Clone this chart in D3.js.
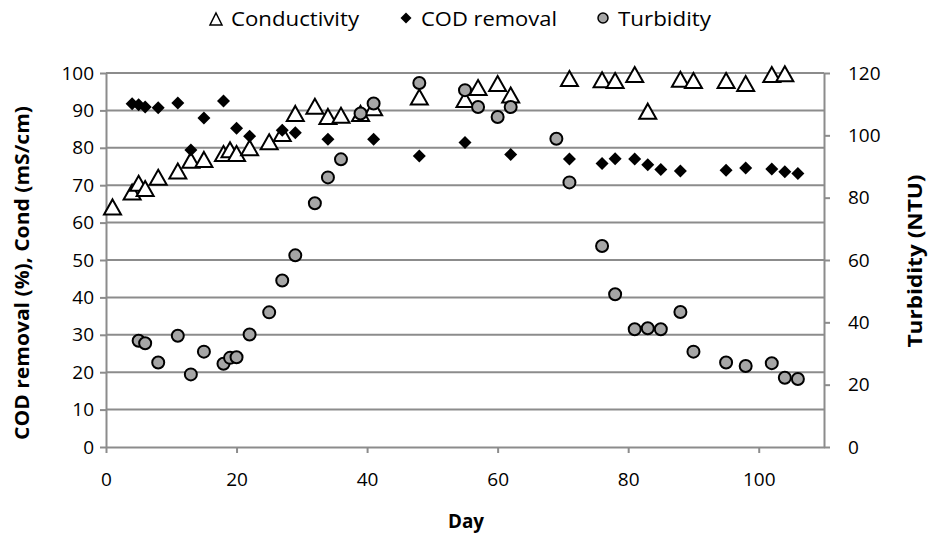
<!DOCTYPE html>
<html>
<head>
<meta charset="utf-8">
<script src="https://cdn.jsdelivr.net/npm/d3@7"></script>
<style>
  body { margin: 0; background: #fff; }
  svg text { font-family: "Open Sans", sans-serif; fill: #000; }
</style>
</head>
<body>
<div id="chart"></div>
<script>
// values
var condDay = [1,4,5,6,8,11,13,15,18,19,20,22,25,27,29,32,34,36,39,41,48,55,57,60,62,71,76,78,81,83,88,90,95,98,102,104];
var condVal = [64.2,68.2,70.5,69.1,72.1,73.8,76.7,76.9,78.5,79.5,78.5,80,81.6,83.8,89.2,91.1,88.4,88.7,89.2,90.7,93.6,92.9,96.1,97.2,94.1,98.5,98.2,98.0,99.6,89.8,98.3,98.0,98.0,97.2,99.6,99.8];

var codDay = [4,5,6,8,11,13,15,18,20,22,27,29,34,41,48,55,62,71,76,78,81,83,85,88,95,98,102,104,106];
var codVal = [91.8,91.5,90.9,90.7,92.0,79.4,88.0,92.5,85.2,83.1,84.7,84.0,82.3,82.3,77.8,81.4,78.2,77.0,75.8,77.1,77.0,75.5,74.2,73.8,74.0,74.6,74.3,73.6,73.1];

var turbDay = [5,6,8,11,13,15,18,19,20,22,25,27,29,32,34,36,39,41,48,55,57,60,62,69,71,76,78,81,83,85,88,90,95,98,102,104,106];
var turbVal = [34.1,33.3,27.1,35.7,23.3,30.6,26.7,28.6,28.8,36.1,43.2,53.4,61.5,78.2,86.5,92.3,107.0,110.2,116.8,114.5,109.1,105.9,109.1,98.9,84.9,64.5,49.0,37.8,38.1,37.8,43.3,30.6,27.1,26.0,26.9,22.2,21.8];

var xTicks = [0,20,40,60,80,100];
var leftTicks = [0,10,20,30,40,50,60,70,80,90,100];
var rightTicks = [0,20,40,60,80,100,120];
var legendNames = ["Conductivity", "COD removal", "Turbidity"];

var dim = {
    width: 932, height: 537,
    margin: { top: 73, right: 108, bottom: 90, left: 106 }
};
dim.plot = {
    width: dim.width - dim.margin.left - dim.margin.right,
    height: dim.height - dim.margin.top - dim.margin.bottom
};

var gridColor = "#8c8c8c";

var x = d3.scaleLinear().domain([0, 110]).range([0, dim.plot.width]);
var y = d3.scaleLinear().domain([0, 100]).range([dim.plot.height, 0]);
var y2 = d3.scaleLinear().domain([0, 120]).range([dim.plot.height, 0]);

var svg = d3.select("#chart").append("svg")
        .attr("width", dim.width)
        .attr("height", dim.height);

var g = svg.append("g")
        .attr("transform", "translate(" + dim.margin.left + "," + dim.margin.top + ")");

// horizontal gridlines
g.append("g").attr("class", "grid")
    .selectAll("line").data(leftTicks.filter(function(d) { return d > 0; }))
    .enter().append("line")
        .attr("x1", 0).attr("x2", dim.plot.width)
        .attr("y1", function(d) { return y(d); })
        .attr("y2", function(d) { return y(d); })
        .attr("stroke", gridColor)
        .attr("stroke-width", 2);

function styleAxis(sel) {
    sel.select(".domain").attr("stroke", gridColor).attr("stroke-width", 2);
    sel.selectAll(".tick line").attr("stroke", gridColor).attr("stroke-width", 2);
    sel.selectAll(".tick text").style("font-size", "19px").attr("fill", "#000");
}

var xAxis = d3.axisBottom(x).tickValues(xTicks).tickSize(6).tickSizeOuter(0).tickPadding(20);
g.append("g")
    .attr("class", "x axis")
    .attr("transform", "translate(0," + dim.plot.height + ")")
    .call(xAxis)
    .call(styleAxis);

var yAxis = d3.axisLeft(y).tickValues(leftTicks).tickSize(6).tickSizeOuter(0).tickPadding(6);
g.append("g")
    .attr("class", "y axis")
    .call(yAxis)
    .call(styleAxis);

var y2Axis = d3.axisRight(y2).tickValues(rightTicks).tickSize(6).tickSizeOuter(0).tickPadding(18);
g.append("g")
    .attr("class", "y2 axis")
    .attr("transform", "translate(" + dim.plot.width + ",0)")
    .call(y2Axis)
    .call(styleAxis);

// marker shapes, centred on their bounding box like Excel
function triPath(w, h) {
    return "M0," + (-h / 2) + "L" + (w / 2) + "," + (h / 2) + "L" + (-w / 2) + "," + (h / 2) + "Z";
}
function diaPath(r) {
    return "M0," + (-r) + "L" + r + ",0L0," + r + "L" + (-r) + ",0Z";
}

// conductivity
g.append("g").attr("class", "cond")
    .selectAll("path").data(condDay)
    .enter().append("path")
        .attr("d", triPath(17, 15))
        .attr("transform", function(d, i) { return "translate(" + x(d) + "," + y(condVal[i]) + ")"; })
        .attr("fill", "#fff")
        .attr("stroke", "#000")
        .attr("stroke-width", 2)
        .attr("stroke-linejoin", "miter");

// COD removal
g.append("g").attr("class", "cod")
    .selectAll("path").data(codDay)
    .enter().append("path")
        .attr("d", diaPath(6.5))
        .attr("transform", function(d, i) { return "translate(" + x(d) + "," + y(codVal[i]) + ")"; })
        .attr("fill", "#000");

// turbidity (secondary axis)
g.append("g").attr("class", "turb")
    .selectAll("circle").data(turbDay)
    .enter().append("circle")
        .attr("cx", function(d) { return x(d); })
        .attr("cy", function(d, i) { return y2(turbVal[i]); })
        .attr("r", 6)
        .attr("fill", "#a6a6a6")
        .attr("stroke", "#000")
        .attr("stroke-width", 2);

// axis titles
svg.append("text")
    .attr("x", 466).attr("y", 528)
    .attr("text-anchor", "middle")
    .style("font-size", "19px").style("font-weight", "bold")
    .attr("textLength", 36).attr("lengthAdjust", "spacingAndGlyphs")
    .text("Day");

svg.append("text")
    .attr("transform", "translate(29,273) rotate(-90)")
    .attr("text-anchor", "middle")
    .style("font-size", "19px").style("font-weight", "bold")
    .attr("textLength", 334).attr("lengthAdjust", "spacingAndGlyphs")
    .text("COD removal (%), Cond (mS/cm)");

svg.append("text")
    .attr("transform", "translate(922,261) rotate(-90)")
    .attr("text-anchor", "middle")
    .style("font-size", "19px").style("font-weight", "bold")
    .attr("textLength", 173).attr("lengthAdjust", "spacingAndGlyphs")
    .text("Turbidity (NTU)");

// legend
var legend = svg.append("g").attr("class", "legend");
var legendX = [216, 406, 603];
var legendW = [128, 136, 93];

legend.append("path")
    .attr("d", triPath(12, 12))
    .attr("transform", "translate(" + legendX[0] + ",19)")
    .attr("fill", "#fff").attr("stroke", "#000").attr("stroke-width", 1.5);
legend.append("path")
    .attr("d", diaPath(5.5))
    .attr("transform", "translate(" + legendX[1] + ",18)")
    .attr("fill", "#000");
legend.append("circle")
    .attr("cx", legendX[2]).attr("cy", 18).attr("r", 5)
    .attr("fill", "#a6a6a6").attr("stroke", "#000").attr("stroke-width", 1.5);

legend.selectAll("text").data(legendNames)
    .enter().append("text")
        .attr("x", function(d, i) { return legendX[i] + 15; })
        .attr("y", 26)
        .style("font-size", "20px")
        .attr("textLength", function(d, i) { return legendW[i]; })
        .attr("lengthAdjust", "spacingAndGlyphs")
        .text(function(d) { return d; });
</script>
</body>
</html>
